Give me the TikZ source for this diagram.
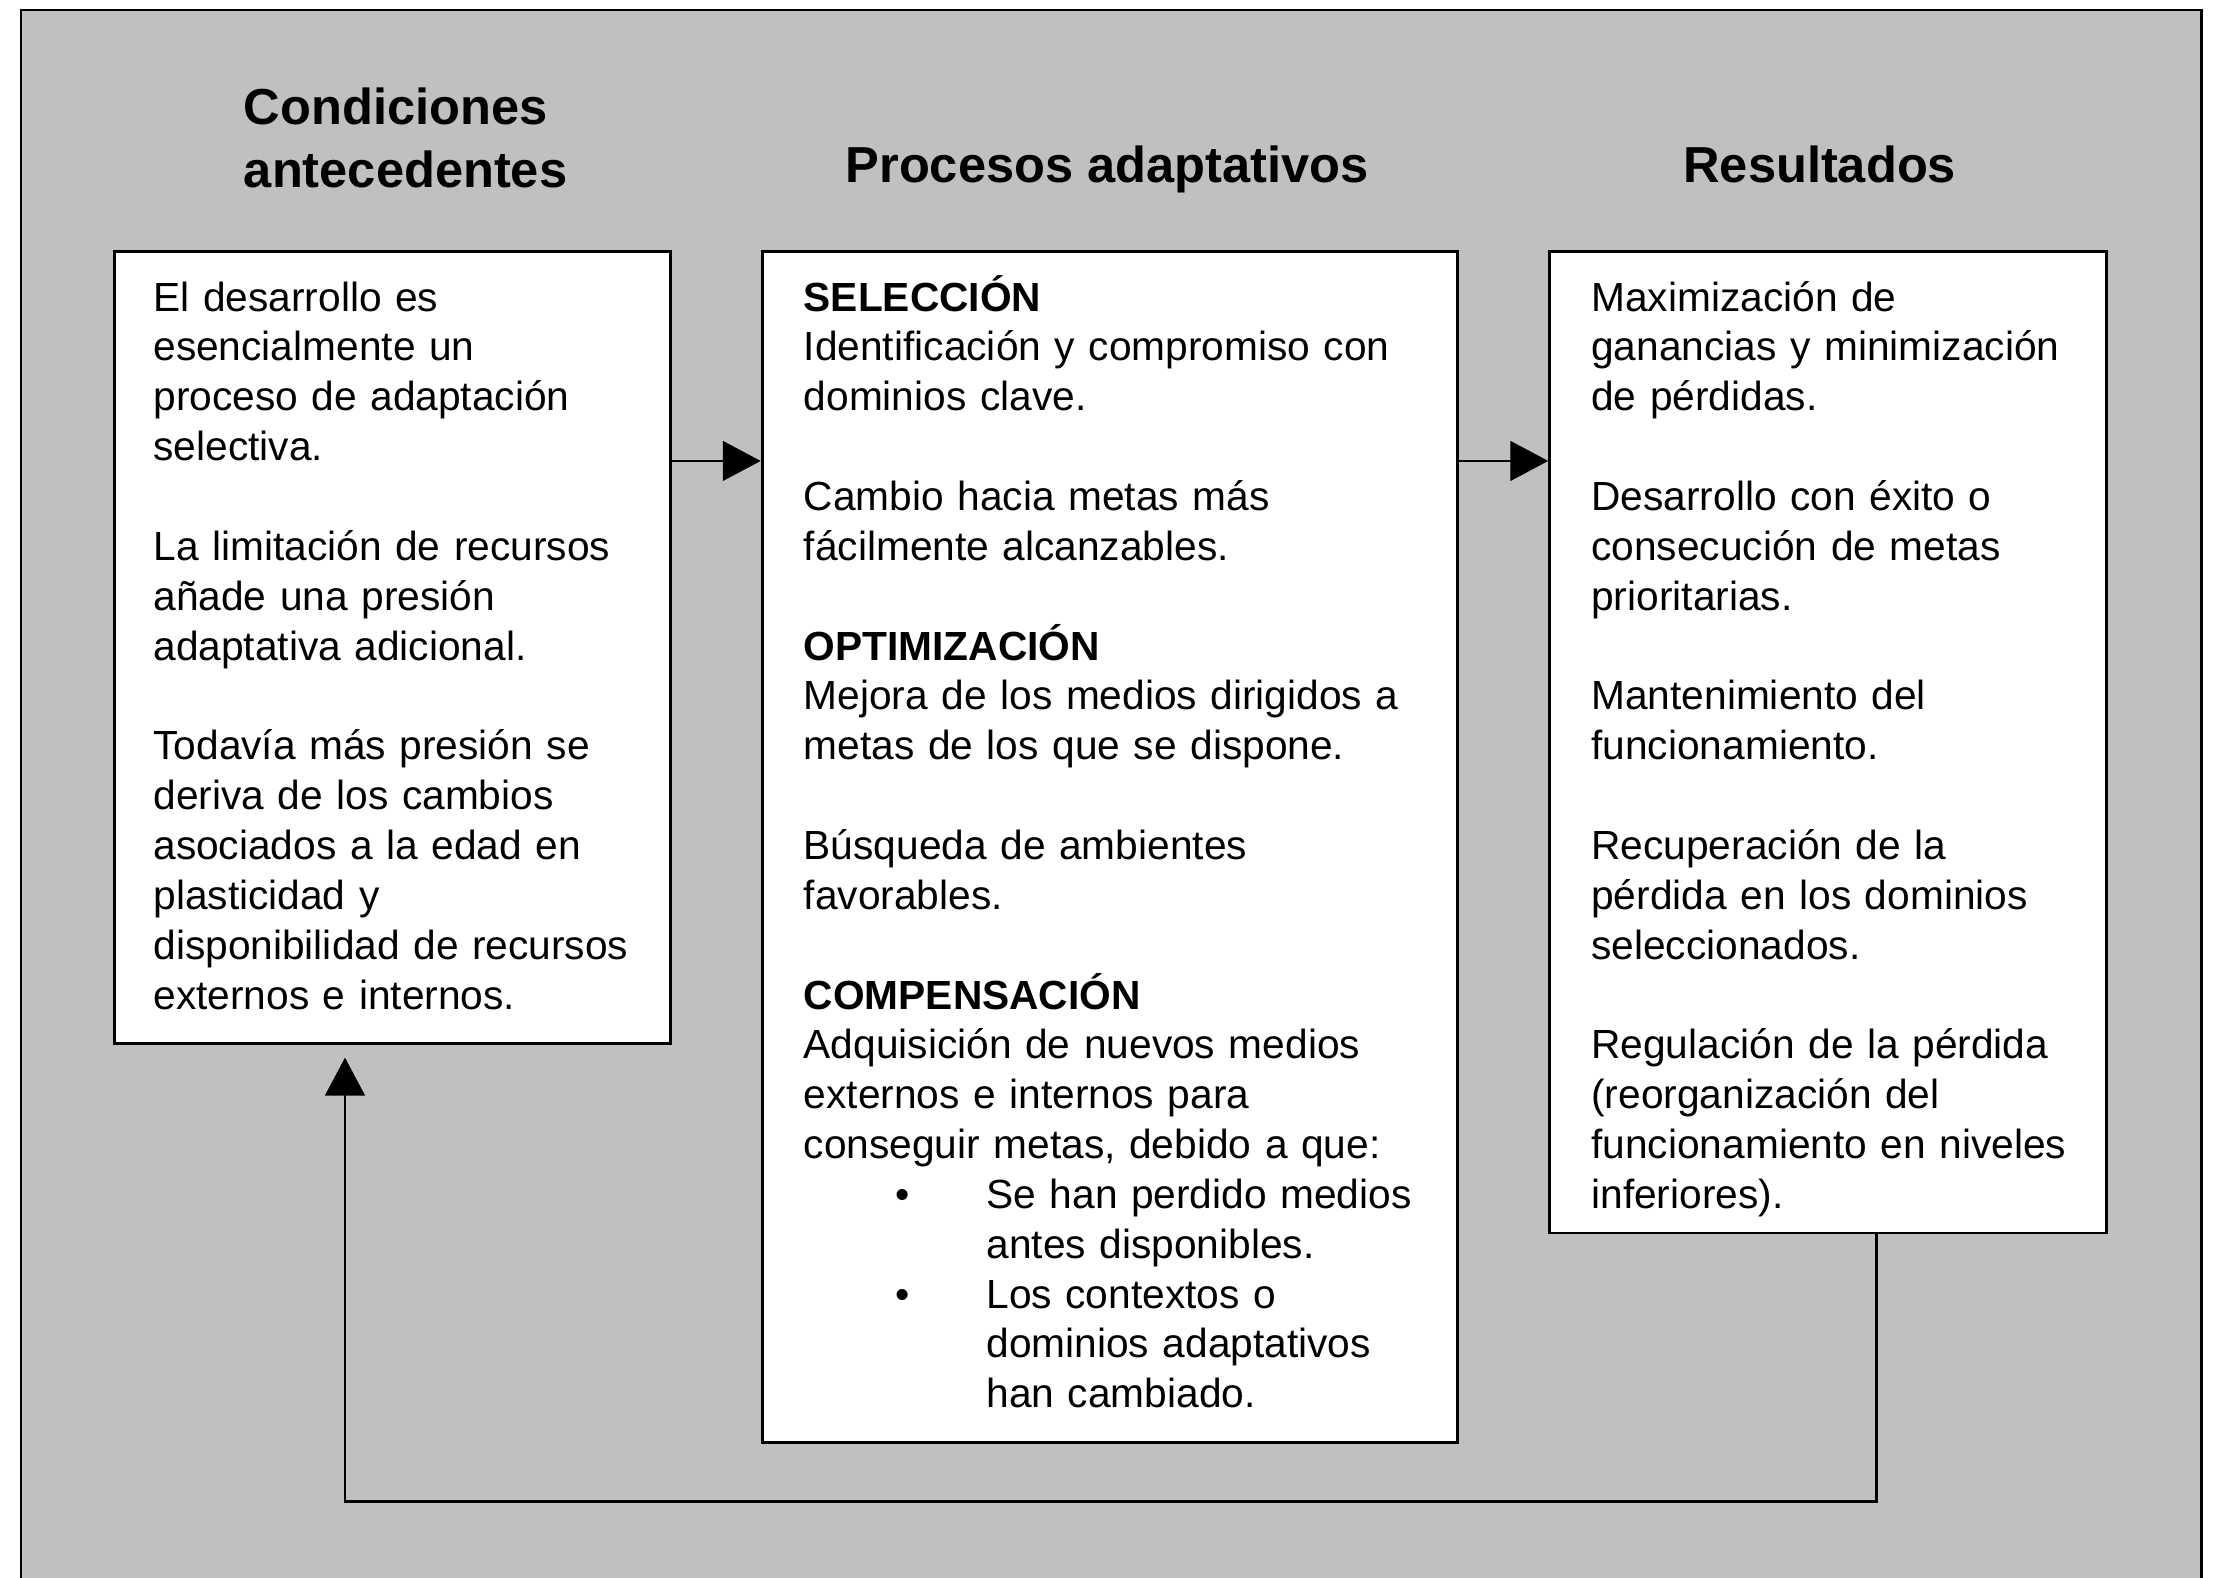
\documentclass[tikz,border=0pt]{standalone}
\usepackage{fontspec}
\setmainfont{Liberation Sans}
\usetikzlibrary{arrows.meta,fit}
\definecolor{bggray}{RGB}{192,192,192}
\newcommand\bodyfont{\fontsize{11.58pt}{14.19pt}\selectfont}
\newcommand\headfont{\fontsize{14.4pt}{18pt}\selectfont\bfseries}
\newcommand\bsk{14.19pt}
\newcommand\bul{\hspace*{26pt}\makebox[26pt][l]{•}}
\newcommand\bind{\hspace*{52pt}}
\begin{document}
\begin{tikzpicture}[x=0.014139cm,y=-0.014139cm,
  box/.style={draw=black,fill=white,line width=0.8pt,inner sep=0pt},
  body/.style={inner sep=0pt,anchor=base west,align=left,font=\bodyfont},
  head/.style={inner sep=0pt,font=\headfont,anchor=base},
  arr/.style={draw=black,line width=0.7pt,-{Triangle[length=10.8pt,width=11.3pt]}}]
\useasboundingbox (0,0) rectangle (1568,1116);
\clip (0,0) rectangle (1568,1116);
\fill[white] (0,0) rectangle (1568,1116);
\draw[line width=0.6pt,fill=bggray] (15,7) rectangle (1557,1140);

% headings
\node[head,anchor=base west,align=left,text width=110pt] (hL) at (172,88) {Condiciones\\antecedentes};
\node[head] (hM) at (783,129) {Procesos adaptativos};
\node[head] (hR) at (1287,129) {Resultados};

% boxes
\node[box,fit={(81,178)(474,738)}] (L) {};
\node[box,fit={(539,178)(1031,1020)}] (M) {};
\node[box,fit={(1096,178)(1490,872)}] (R) {};

\node[body,text width=150pt] (Lt) at (108,220) {El desarrollo es\\
esencialmente un\\
proceso de adaptación\\
selectiva.\\[\bsk]
La limitación de recursos\\
añade una presión\\
adaptativa adicional.\\[\bsk]
Todavía más presión se\\
deriva de los cambios\\
asociados a la edad en\\
plasticidad y\\
disponibilidad de recursos\\
externos e internos.};

\node[body,text width=188pt] (Mt) at (568,220) {\textbf{SELECCIÓN}\\
Identificación y compromiso con\\
dominios clave.\\[\bsk]
Cambio hacia metas más\\
fácilmente alcanzables.\\[\bsk]
\textbf{OPTIMIZACIÓN}\\
Mejora de los medios dirigidos a\\
metas de los que se dispone.\\[\bsk]
Búsqueda de ambientes\\
favorables.\\[\bsk]
\textbf{COMPENSACIÓN}\\
Adquisición de nuevos medios\\
externos e internos para\\
conseguir metas, debido a que:\\
\bul Se han perdido medios\\
\bind antes disponibles.\\
\bul Los contextos o\\
\bind dominios adaptativos\\
\bind han cambiado.};

\node[body,text width=150pt] (Rt) at (1125,220) {Maximización de\\
ganancias y minimización\\
de pérdidas.\\[\bsk]
Desarrollo con éxito o\\
consecución de metas\\
prioritarias.\\[\bsk]
Mantenimiento del\\
funcionamiento.\\[\bsk]
Recuperación de la\\
pérdida en los dominios\\
seleccionados.\\[\bsk]
Regulación de la pérdida\\
(reorganización del\\
funcionamiento en niveles\\
inferiores).};

% connectors
\draw[arr] (L.east |- 0,326) -- (M.west |- 0,326);
\draw[arr] (M.east |- 0,326) -- (R.west |- 0,326);
\coordinate (fbA) at (1327,1062);
\coordinate (fbB) at (244,1062);
\coordinate (fbTip) at (244,748);
\draw[arr] (R.south -| fbA) -- (fbA) -- (fbB) -- (fbTip);
\end{tikzpicture}
\end{document}
